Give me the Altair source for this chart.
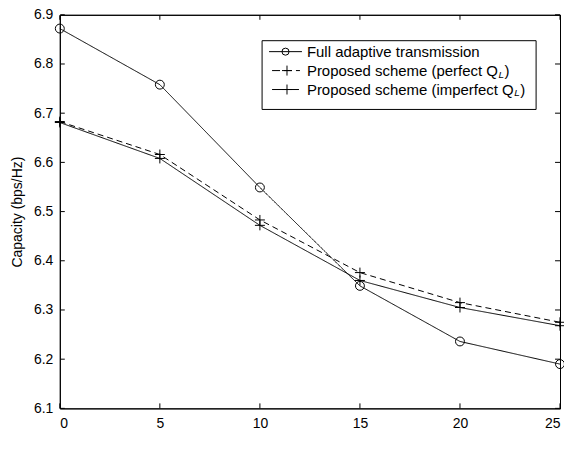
import altair as alt
import pandas as pd

mobility = [0, 5, 10, 15, 20, 25]
full_adaptive = [6.872, 6.758, 6.549, 6.349, 6.236, 6.190]
perfect_ql = [6.683, 6.616, 6.483, 6.376, 6.315, 6.275]
imperfect_ql = [6.681, 6.608, 6.472, 6.360, 6.305, 6.268]

x_ticks = [0, 5, 10, 15, 20, 25]
y_ticks = [6.1, 6.2, 6.3, 6.4, 6.5, 6.6, 6.7, 6.8, 6.9]

s_full = "Full adaptive transmission"
s_perf = "Proposed scheme (perfect QL)"
s_imp = "Proposed scheme (imperfect QL)"
series_names = [s_full, s_perf, s_imp]

legend_main = ["Full adaptive transmission", "Proposed scheme (perfect Q", "Proposed scheme (imperfect Q"]
legend_sub = ["", "L", "L"]
legend_close = ["", ")", ")"]

rows = []
for name, vals in zip(series_names, [full_adaptive, perfect_ql, imperfect_ql]):
    for m, v in zip(mobility, vals):
        rows.append({"mobility": m, "capacity": v, "series": name})
df = pd.DataFrame(rows)

FONT = "Liberation Sans"
W, H = 502, 395
TK = 5
E = 0.5  # small offset to keep lines crisp

xscale = alt.Scale(domain=[0, 25], nice=False, zero=False)
yscale = alt.Scale(domain=[6.1, 6.9], nice=False, zero=False)

x_enc = alt.X("mobility:Q", scale=xscale,
              axis=alt.Axis(values=x_ticks, title="Mobility (km/h)",
                            grid=False, domain=False, ticks=False,
                            labelPadding=8, labelFontSize=14, titleFontSize=14,
                            titleFontWeight="normal", titleX=W / 2 + 2, titleY=435,
                            titleBaseline="alphabetic"))
y_enc = alt.Y("capacity:Q", scale=yscale,
              axis=alt.Axis(values=y_ticks, format=".1f", title="Capacity (bps/Hz)",
                            grid=False, domain=False, ticks=False,
                            labelPadding=7, labelFontSize=14, titleFontSize=14,
                            titleFontWeight="normal", titleX=-42, titleY=H / 2,
                            titleBaseline="middle"))

base = alt.Chart(df)

lines = base.mark_line(color="black", strokeWidth=1).encode(
    x=x_enc, y=y_enc,
    detail="series:N",
    strokeDash=alt.StrokeDash("series:N",
                              scale=alt.Scale(domain=series_names, range=[[1, 0], [6, 4], [1, 0]]),
                              legend=None),
)

circles = base.transform_filter(alt.datum.series == s_full).mark_point(
    shape="circle", size=80, color="black", strokeWidth=1, filled=False, opacity=1
).encode(x="mobility:Q", y="capacity:Q")

pluses = base.transform_filter(alt.datum.series != s_full).mark_point(
    shape="M-1,0L1,0M0,-1L0,1", size=100, color="black", strokeWidth=1, filled=False, opacity=1
).encode(x="mobility:Q", y="capacity:Q")

one = pd.DataFrame({"k": [0]})
oc = alt.Chart(one)
rs = dict(color="black", strokeWidth=1)
fr_top = oc.mark_rule(**rs).encode(x=alt.value(E), x2=alt.value(W + E), y=alt.value(E))
fr_bot = oc.mark_rule(**rs).encode(x=alt.value(E), x2=alt.value(W + E), y=alt.value(H + E))
fr_left = oc.mark_rule(**rs).encode(x=alt.value(E), y=alt.value(E), y2=alt.value(H + E))
fr_right = oc.mark_rule(**rs).encode(x=alt.value(W + E), y=alt.value(E), y2=alt.value(H + E))

xt = alt.Chart(pd.DataFrame({"mobility": x_ticks}))
yt = alt.Chart(pd.DataFrame({"capacity": y_ticks}))
xt_bottom = xt.mark_rule(**rs).encode(x="mobility:Q", y=alt.value(H - TK), y2=alt.value(H))
xt_top = xt.mark_rule(**rs).encode(x="mobility:Q", y=alt.value(E), y2=alt.value(TK))
yt_left = yt.mark_rule(**rs).encode(y="capacity:Q", x=alt.value(E), x2=alt.value(TK))
yt_right = yt.mark_rule(**rs).encode(y="capacity:Q", x=alt.value(W - TK), x2=alt.value(W))

LX0, LX1, LY0, LY1 = 203, 478, 26, 95
row_y = [37, 56, 75]
leg_df = pd.DataFrame({"main": legend_main, "sub": legend_sub, "close": legend_close, "py": row_y,
                       "pys": [v + 4 for v in row_y]})
leg_chart = alt.Chart(leg_df)
leg_box = oc.mark_rect(fill="white", stroke="black", strokeWidth=1).encode(
    x=alt.value(LX0), x2=alt.value(LX1), y=alt.value(LY0), y2=alt.value(LY1))
py = alt.Y("py:Q", scale=None)
leg_line_full = leg_chart.transform_filter(alt.datum.main == legend_main[0]).mark_rule(**rs).encode(
    x=alt.value(210), x2=alt.value(243), y=py)
leg_line_dash = leg_chart.transform_filter(alt.datum.main == legend_main[1]).mark_rule(
    color="black", strokeWidth=1, strokeDash=[8, 4]).encode(x=alt.value(213), x2=alt.value(241), y=py)
leg_line_solid = leg_chart.transform_filter(alt.datum.main == legend_main[2]).mark_rule(**rs).encode(
    x=alt.value(213), x2=alt.value(240), y=py)
leg_circle = leg_chart.transform_filter(alt.datum.main == legend_main[0]).mark_point(
    shape="circle", size=50, color="black", strokeWidth=1, filled=False, opacity=1).encode(x=alt.value(226.5), y=py)
leg_plus = leg_chart.transform_filter(alt.datum.main != legend_main[0]).mark_point(
    shape="M-1,0L1,0M0,-1L0,1", size=100, color="black", strokeWidth=1, filled=False, opacity=1).encode(
    x=alt.value(228), y=py)
leg_text = leg_chart.mark_text(align="left", baseline="middle", font=FONT, fontSize=15, color="black").encode(
    x=alt.value(248), y=py, text="main:N")
leg_sub = leg_chart.transform_filter(alt.datum.sub != "").transform_calculate(
    sx="248 + (datum.main == '%s' ? 191.7 : 207.6) + 0.5" % legend_main[1]
).mark_text(align="left", baseline="middle", font=FONT, fontSize=10, fontStyle="italic", color="black").encode(
    x=alt.X("sx:Q", scale=None), y=alt.Y("pys:Q", scale=None), text="sub:N")
leg_close = leg_chart.transform_filter(alt.datum.close != "").transform_calculate(
    sx="248 + (datum.main == '%s' ? 191.7 : 207.6) + 6.5" % legend_main[1]
).mark_text(align="left", baseline="middle", font=FONT, fontSize=15, color="black").encode(
    x=alt.X("sx:Q", scale=None), y=py, text="close:N")

chart = alt.layer(
    lines, circles, pluses, fr_top, fr_bot, fr_left, fr_right,
    xt_bottom, xt_top, yt_left, yt_right,
    leg_box, leg_line_full, leg_line_dash, leg_line_solid, leg_circle, leg_plus,
    leg_text, leg_sub, leg_close
).properties(
    width=W, height=H,
    background="white",
    autosize=alt.AutoSizeParams(type="none"),
    padding={"left": 52, "top": 6, "right": 4, "bottom": 50},
).configure_view(stroke="black", strokeWidth=1).configure_axis(
    labelFont=FONT, titleFont=FONT, labelColor="black", titleColor="black"
)

chart.save("out.html", embed_options={"renderer": "svg", "actions": False})
